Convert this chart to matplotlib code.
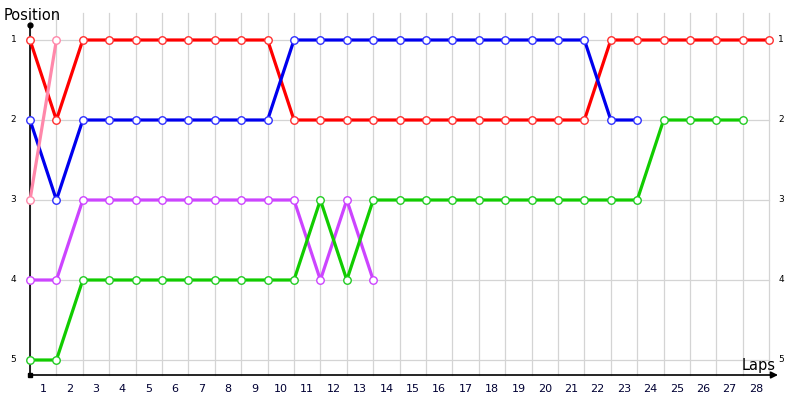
import matplotlib
matplotlib.use("Agg")
import matplotlib.pyplot as plt

laps = list(range(0, 29))
lap_labels = [str(i) for i in range(1, 29)]
positions = [1, 2, 3, 4, 5]

red = [1, 2, 1, 1, 1, 1, 1, 1, 1, 1, 2, 2, 2, 2, 2, 2, 2, 2, 2, 2, 2, 2, 1, 1, 1, 1, 1, 1, 1]
blue = [2, 3, 2, 2, 2, 2, 2, 2, 2, 2, 1, 1, 1, 1, 1, 1, 1, 1, 1, 1, 1, 1, 2, 2]
pink = [3, 1]
magenta = [4, 4, 3, 3, 3, 3, 3, 3, 3, 3, 3, 4, 3, 4]
green = [5, 5, 4, 4, 4, 4, 4, 4, 4, 4, 4, 3, 4, 3, 3, 3, 3, 3, 3, 3, 3, 3, 3, 3, 2, 2, 2, 2]

series = [
    (red, "#ff0000", "#ff3030"),
    (blue, "#0000ee", "#3030ff"),
    (pink, "#ff88aa", "#ff88aa"),
    (magenta, "#cc44ff", "#cc44ff"),
    (green, "#11cc00", "#22cc22"),
]

fig = plt.figure(figsize=(8, 4), dpi=100)
ax = fig.add_axes([0, 0, 1, 1])
# pixel mapping: x_px = 30 + 26.4*lap ; y_px = 40 + 80*(pos-1)
ax.set_xlim(-30 / 26.4, 770 / 26.4)
ax.set_ylim(1 + 360 / 80, 1 - 40 / 80)
ax.axis("off")

grid_c = "#d4d4d4"
top_pos = 1 + (13 - 40) / 80
bot_pos = 1 + (375 - 40) / 80
for l in laps:
    ax.plot([l, l], [top_pos, bot_pos], color=grid_c, lw=0.9, zorder=1)
for p in positions:
    ax.plot([0, laps[-1]], [p, p], color=grid_c, lw=0.9, zorder=1)

# axes
ax.plot([0, 0], [1 + (25 - 40) / 80, bot_pos], color="black", lw=1.2, zorder=2)
ax.plot([0], [1 + (25 - 40) / 80], marker="o", ms=3.5, color="black", zorder=2)
ax.plot([0], [bot_pos], marker="s", ms=2.5, color="black", zorder=2)
ax.annotate("", xy=((778 - 30) / 26.4, bot_pos), xytext=(0, bot_pos),
            arrowprops=dict(arrowstyle="-|>", color="black", lw=1.2,
                            mutation_scale=10, shrinkA=0, shrinkB=0), zorder=2)

for vals, lc, mc in series:
    xs = laps[:len(vals)]
    ax.plot(xs, vals, color=lc, lw=2.3, zorder=3, solid_capstyle="butt")
    ax.plot(xs, vals, ls="none", marker="o", ms=5.4, mfc="white", mec=mc,
            mew=1.0, zorder=4)

for p in positions:
    ax.text(-16.5 / 26.4, p, str(p), fontsize=6.5, ha="center", va="center",
            color="black")
    ax.text((781 - 30) / 26.4, p, str(p), fontsize=6.5, ha="center", va="center",
            color="black")

for i, lab in enumerate(lap_labels):
    ax.text(i + 0.5, 1 + (389 - 40) / 80, lab, fontsize=8, ha="center", va="center",
            color="#000033")

ax.text((4 - 30) / 26.4, 1 + (16 - 40) / 80, "Position", fontsize=10.5,
        ha="left", va="center", color="black")
ax.text((742 - 30) / 26.4, 1 + (366 - 40) / 80, "Laps", fontsize=10.5,
        ha="left", va="center", color="black")

fig.savefig("out.png", dpi=100, facecolor="white")
